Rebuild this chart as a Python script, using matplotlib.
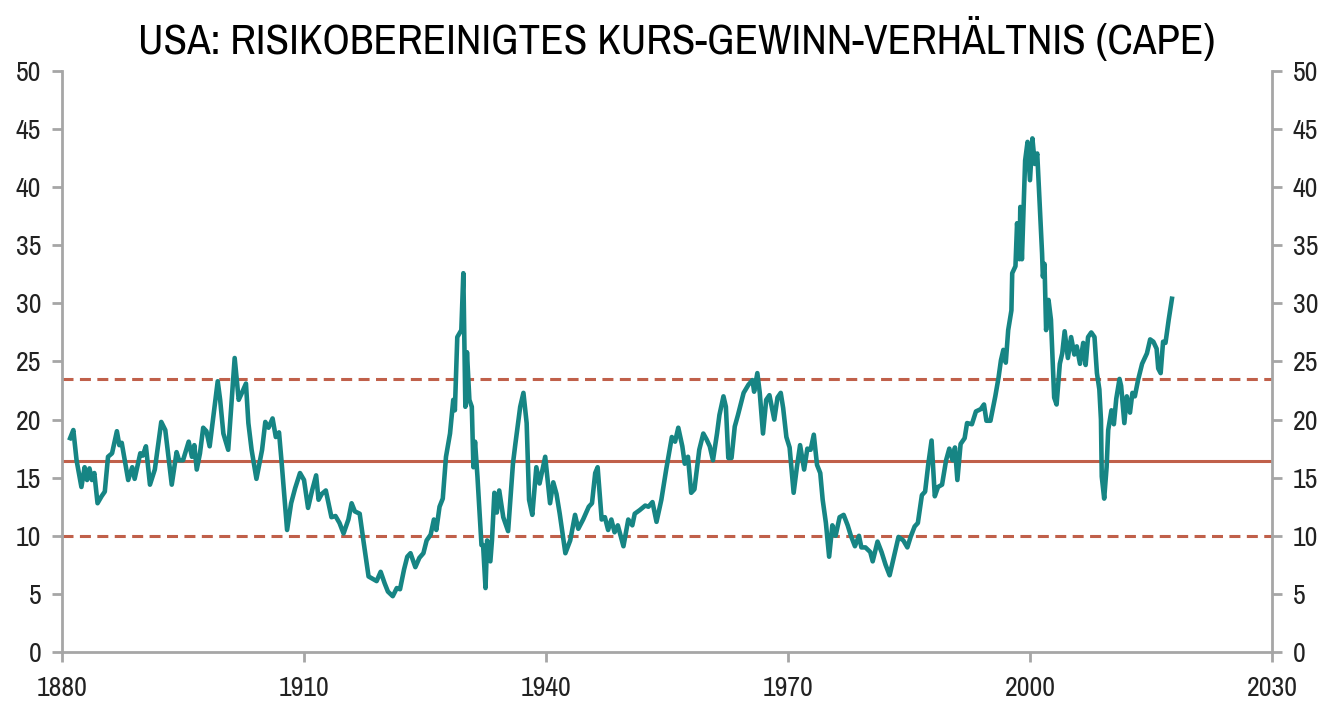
import numpy as np
import matplotlib.pyplot as plt
from matplotlib import font_manager

# Shiller CAPE
years = [1881.0, 1881.4, 1881.8, 1882.4, 1882.8, 1883.1, 1883.4, 1883.7, 1884.0, 1884.4,
         1884.9, 1885.3, 1885.7, 1886.2, 1886.8, 1887.1, 1887.4, 1888.2, 1888.7, 1889.0,
         1889.7, 1890.0, 1890.4, 1890.9, 1891.5, 1892.3, 1892.8, 1893.6, 1894.2, 1894.5,
         1895.0, 1895.7, 1896.1, 1896.4, 1896.7, 1897.1, 1897.5, 1897.9, 1898.3, 1898.8,
         1899.3, 1899.6, 1900.0, 1900.6, 1901.1, 1901.4, 1901.9, 1902.3, 1902.8, 1903.1,
         1903.5, 1904.1, 1904.8, 1905.2, 1905.6, 1906.1, 1906.5, 1906.9, 1907.2, 1907.9,
         1908.4, 1908.9, 1909.5, 1910.0, 1910.5, 1911.0, 1911.5, 1911.8, 1912.2, 1912.7,
         1913.4, 1913.9, 1914.4, 1914.9, 1915.5, 1915.9, 1916.3, 1916.9, 1917.4, 1918.0,
         1918.5, 1919.0, 1919.5, 1920.0, 1920.4, 1921.0, 1921.5, 1921.9, 1922.4, 1922.8,
         1923.2, 1923.8, 1924.3, 1924.8, 1925.2, 1925.7, 1926.1, 1926.4, 1926.8, 1927.2,
         1927.6, 1928.1, 1928.5, 1928.7, 1929.0, 1929.5, 1929.75, 1930.0, 1930.2, 1930.5,
         1930.8, 1931.0, 1931.2, 1931.5, 1931.8, 1932.0, 1932.2, 1932.5, 1932.7, 1933.1,
         1933.3, 1933.6, 1933.9, 1934.2, 1934.7, 1935.3, 1935.9, 1936.2, 1936.8, 1937.2,
         1937.6, 1937.9, 1938.3, 1938.8, 1939.2, 1939.9, 1940.5, 1940.9, 1941.3, 1941.7,
         1942.4, 1943.0, 1943.6, 1944.0, 1944.6, 1945.3, 1945.7, 1946.1, 1946.4, 1946.9,
         1947.3, 1947.7, 1948.1, 1948.5, 1948.9, 1949.6, 1950.2, 1950.7, 1951.0, 1951.6,
         1952.3, 1952.7, 1953.2, 1953.7, 1954.3, 1954.9, 1955.6, 1956.0, 1956.4, 1956.9,
         1957.2, 1957.6, 1958.0, 1958.4, 1959.0, 1959.5, 1959.9, 1960.3, 1960.7, 1961.2,
         1961.5, 1962.0, 1962.3, 1962.6, 1963.0, 1963.4, 1963.8, 1964.5, 1965.1, 1965.6,
         1965.8, 1966.2, 1966.5, 1966.9, 1967.3, 1967.7, 1968.3, 1968.7, 1969.1, 1969.4,
         1969.8, 1970.2, 1970.7, 1971.1, 1971.5, 1972.0, 1972.4, 1972.8, 1973.2, 1973.6,
         1974.0, 1974.3, 1974.7, 1975.1, 1975.5, 1975.9, 1976.4, 1976.9, 1977.4, 1977.8,
         1978.3, 1978.8, 1979.1, 1979.6, 1980.2, 1980.5, 1981.1, 1981.6, 1982.1, 1982.6,
         1983.1, 1983.7, 1984.3, 1984.8, 1985.2, 1985.7, 1986.1, 1986.6, 1987.0, 1987.4,
         1987.8, 1988.2, 1988.6, 1989.1, 1989.6, 1990.0, 1990.4, 1990.7, 1991.0, 1991.4,
         1991.9, 1992.2, 1992.8, 1993.3, 1993.9, 1994.3, 1994.6, 1995.1, 1995.7, 1996.1,
         1996.4, 1996.7, 1997.0, 1997.3, 1997.7, 1997.8, 1998.2, 1998.4, 1998.7, 1998.8,
         1999.0, 1999.4, 1999.7, 2000.0, 2000.3, 2000.6, 2000.9, 2001.2, 2001.5, 2001.6,
         2001.8, 2002.0, 2002.3, 2002.6, 2002.9, 2003.0, 2003.3, 2003.7, 2004.0, 2004.3,
         2004.7, 2005.1, 2005.5, 2005.8, 2006.2, 2006.6, 2006.9, 2007.2, 2007.6, 2008.0,
         2008.3, 2008.6, 2008.8, 2008.9, 2009.2, 2009.5, 2009.7, 2010.1, 2010.4, 2010.7,
         2011.1, 2011.3, 2011.7, 2012.0, 2012.4, 2012.7, 2013.0, 2013.4, 2013.9, 2014.5,
         2014.9, 2015.3, 2015.7, 2015.9, 2016.2, 2016.5, 2016.8, 2017.2, 2017.6]
cape = [18.4, 19.1, 16.5, 14.2, 15.9, 14.8, 15.8, 14.8, 15.4, 12.8,
        13.4, 13.8, 16.8, 17.1, 19.0, 17.8, 18.0, 14.8, 15.9, 14.9,
        17.1, 16.9, 17.7, 14.4, 15.7, 19.8, 19.1, 14.4, 17.2, 16.5,
        16.5, 18.1, 16.8, 17.8, 15.7, 17.1, 19.3, 19.0, 17.7, 20.5,
        23.3, 21.7, 18.8, 17.4, 22.3, 25.3, 21.7, 22.3, 23.1, 19.7,
        17.4, 14.9, 17.4, 19.8, 19.3, 20.1, 18.5, 18.9, 16.5, 10.5,
        12.8, 14.1, 15.4, 14.8, 12.4, 13.9, 15.2, 13.1, 13.6, 13.9,
        11.6, 11.7, 11.1, 10.2, 11.4, 12.8, 12.1, 11.9, 9.4, 6.5,
        6.3, 6.1, 6.9, 5.9, 5.2, 4.8, 5.5, 5.4, 7.1, 8.2,
        8.5, 7.3, 8.1, 8.5, 9.6, 10.1, 11.4, 10.5, 12.5, 13.2,
        16.8, 18.8, 21.7, 20.8, 27.1, 27.7, 32.6, 21.1, 25.8, 21.7,
        21.1, 15.9, 18.1, 15.1, 11.6, 9.2, 9.2, 5.5, 9.6, 7.8,
        9.6, 13.7, 12.0, 13.9, 11.6, 10.4, 16.2, 17.9, 21.1, 22.3,
        19.7, 13.1, 11.8, 15.9, 14.5, 16.8, 12.8, 14.6, 13.6, 11.9,
        8.5, 9.6, 11.8, 10.6, 11.4, 12.5, 12.8, 15.4, 15.9, 11.4,
        11.6, 10.5, 11.4, 10.3, 10.9, 9.1, 11.4, 10.9, 11.9, 12.2,
        12.6, 12.5, 12.9, 11.2, 13.1, 15.7, 18.5, 18.1, 19.3, 17.7,
        16.2, 16.8, 13.7, 14.0, 17.4, 18.8, 18.3, 17.7, 16.5, 18.8,
        20.4, 22.0, 21.1, 16.7, 16.7, 19.4, 20.4, 22.3, 23.0, 23.4,
        22.4, 24.0, 22.3, 18.8, 21.7, 22.1, 20.0, 21.9, 22.3, 21.0,
        18.5, 17.6, 13.7, 15.9, 17.8, 15.7, 17.5, 17.4, 18.7, 16.1,
        15.4, 13.1, 11.1, 8.2, 10.9, 10.0, 11.6, 11.8, 10.9, 10.0,
        9.1, 10.0, 9.0, 9.0, 8.6, 7.8, 9.5, 8.6, 7.5, 6.6,
        8.1, 9.9, 9.6, 9.0, 9.9, 10.8, 11.1, 13.5, 13.8, 16.2,
        18.2, 13.4, 14.2, 14.4, 16.5, 17.5, 16.5, 17.6, 14.8, 17.9,
        18.4, 19.7, 19.6, 20.7, 20.9, 21.3, 19.9, 19.9, 22.0, 23.6,
        25.1, 26.0, 24.9, 27.7, 29.4, 32.6, 33.2, 36.9, 33.8, 38.3,
        33.8, 42.3, 43.9, 40.6, 44.2, 42.0, 42.9, 38.6, 34.3, 32.3,
        33.4, 27.7, 30.3, 28.6, 23.4, 21.9, 21.3, 24.8, 25.7, 27.6,
        25.3, 27.1, 25.6, 26.3, 24.8, 26.6, 24.7, 27.1, 27.5, 27.1,
        24.0, 22.6, 20.0, 15.1, 13.2, 15.9, 19.1, 20.8, 19.6, 21.8,
        23.5, 22.9, 19.7, 22.0, 20.6, 22.3, 22.0, 23.4, 24.8, 25.7,
        26.9, 26.7, 26.1, 24.4, 24.0, 26.7, 26.6, 28.6, 30.4]

mean_cape = 16.4
lower_band = 10.0
upper_band = 23.5

# pick a condensed face if one is installed
installed = {f.name for f in font_manager.fontManager.ttflist}
narrow = [n for n in sorted(installed) if 'Narrow' in n or 'Condensed' in n]
families = narrow[:1] + ['Roboto', 'DejaVu Sans']
families = [f for f in families if f in installed] or ['DejaVu Sans']
plt.rcParams['font.family'] = families
plt.rcParams['font.stretch'] = 'condensed'

fig = plt.figure(figsize=(13.43, 7.05), dpi=100)
ax = fig.add_axes([0.0462, 0.0752, 0.9009, 0.8241])

grey = '#a6a6a6'
red = '#c0604a'
teal = '#168584'

ax.axhline(mean_cape, color=red, lw=2.2, zorder=2)
ax.axhline(upper_band, color=red, lw=2.2, ls=(0, (3.6, 2.1)), zorder=2)
ax.axhline(lower_band, color=red, lw=2.2, ls=(0, (3.6, 2.1)), zorder=2)
ax.plot(years, cape, color=teal, lw=3.3, zorder=3, solid_joinstyle='round')

ax.set_xlim(1880, 2030)
ax.set_ylim(0, 50)
ax.set_xticks(np.arange(1880, 2031, 30))
ax.set_yticks(np.arange(0, 51, 5))

ax.spines['top'].set_visible(False)
for s in ['left', 'right', 'bottom']:
    ax.spines[s].set_color(grey)
    ax.spines[s].set_linewidth(2)

ax.tick_params(axis='both', colors=grey, width=2, length=7, labelcolor='#222222', labelsize=20)
ax.tick_params(axis='x', pad=10)
ax.tick_params(axis='y', pad=8)
ax.tick_params(axis='y', which='both', right=True, labelright=True)

ax.set_title('USA: RISIKOBEREINIGTES KURS-GEWINN-VERHÄLTNIS (CAPE)', fontsize=31, pad=12, x=0.508)

fig.savefig('out.png', dpi=100)
